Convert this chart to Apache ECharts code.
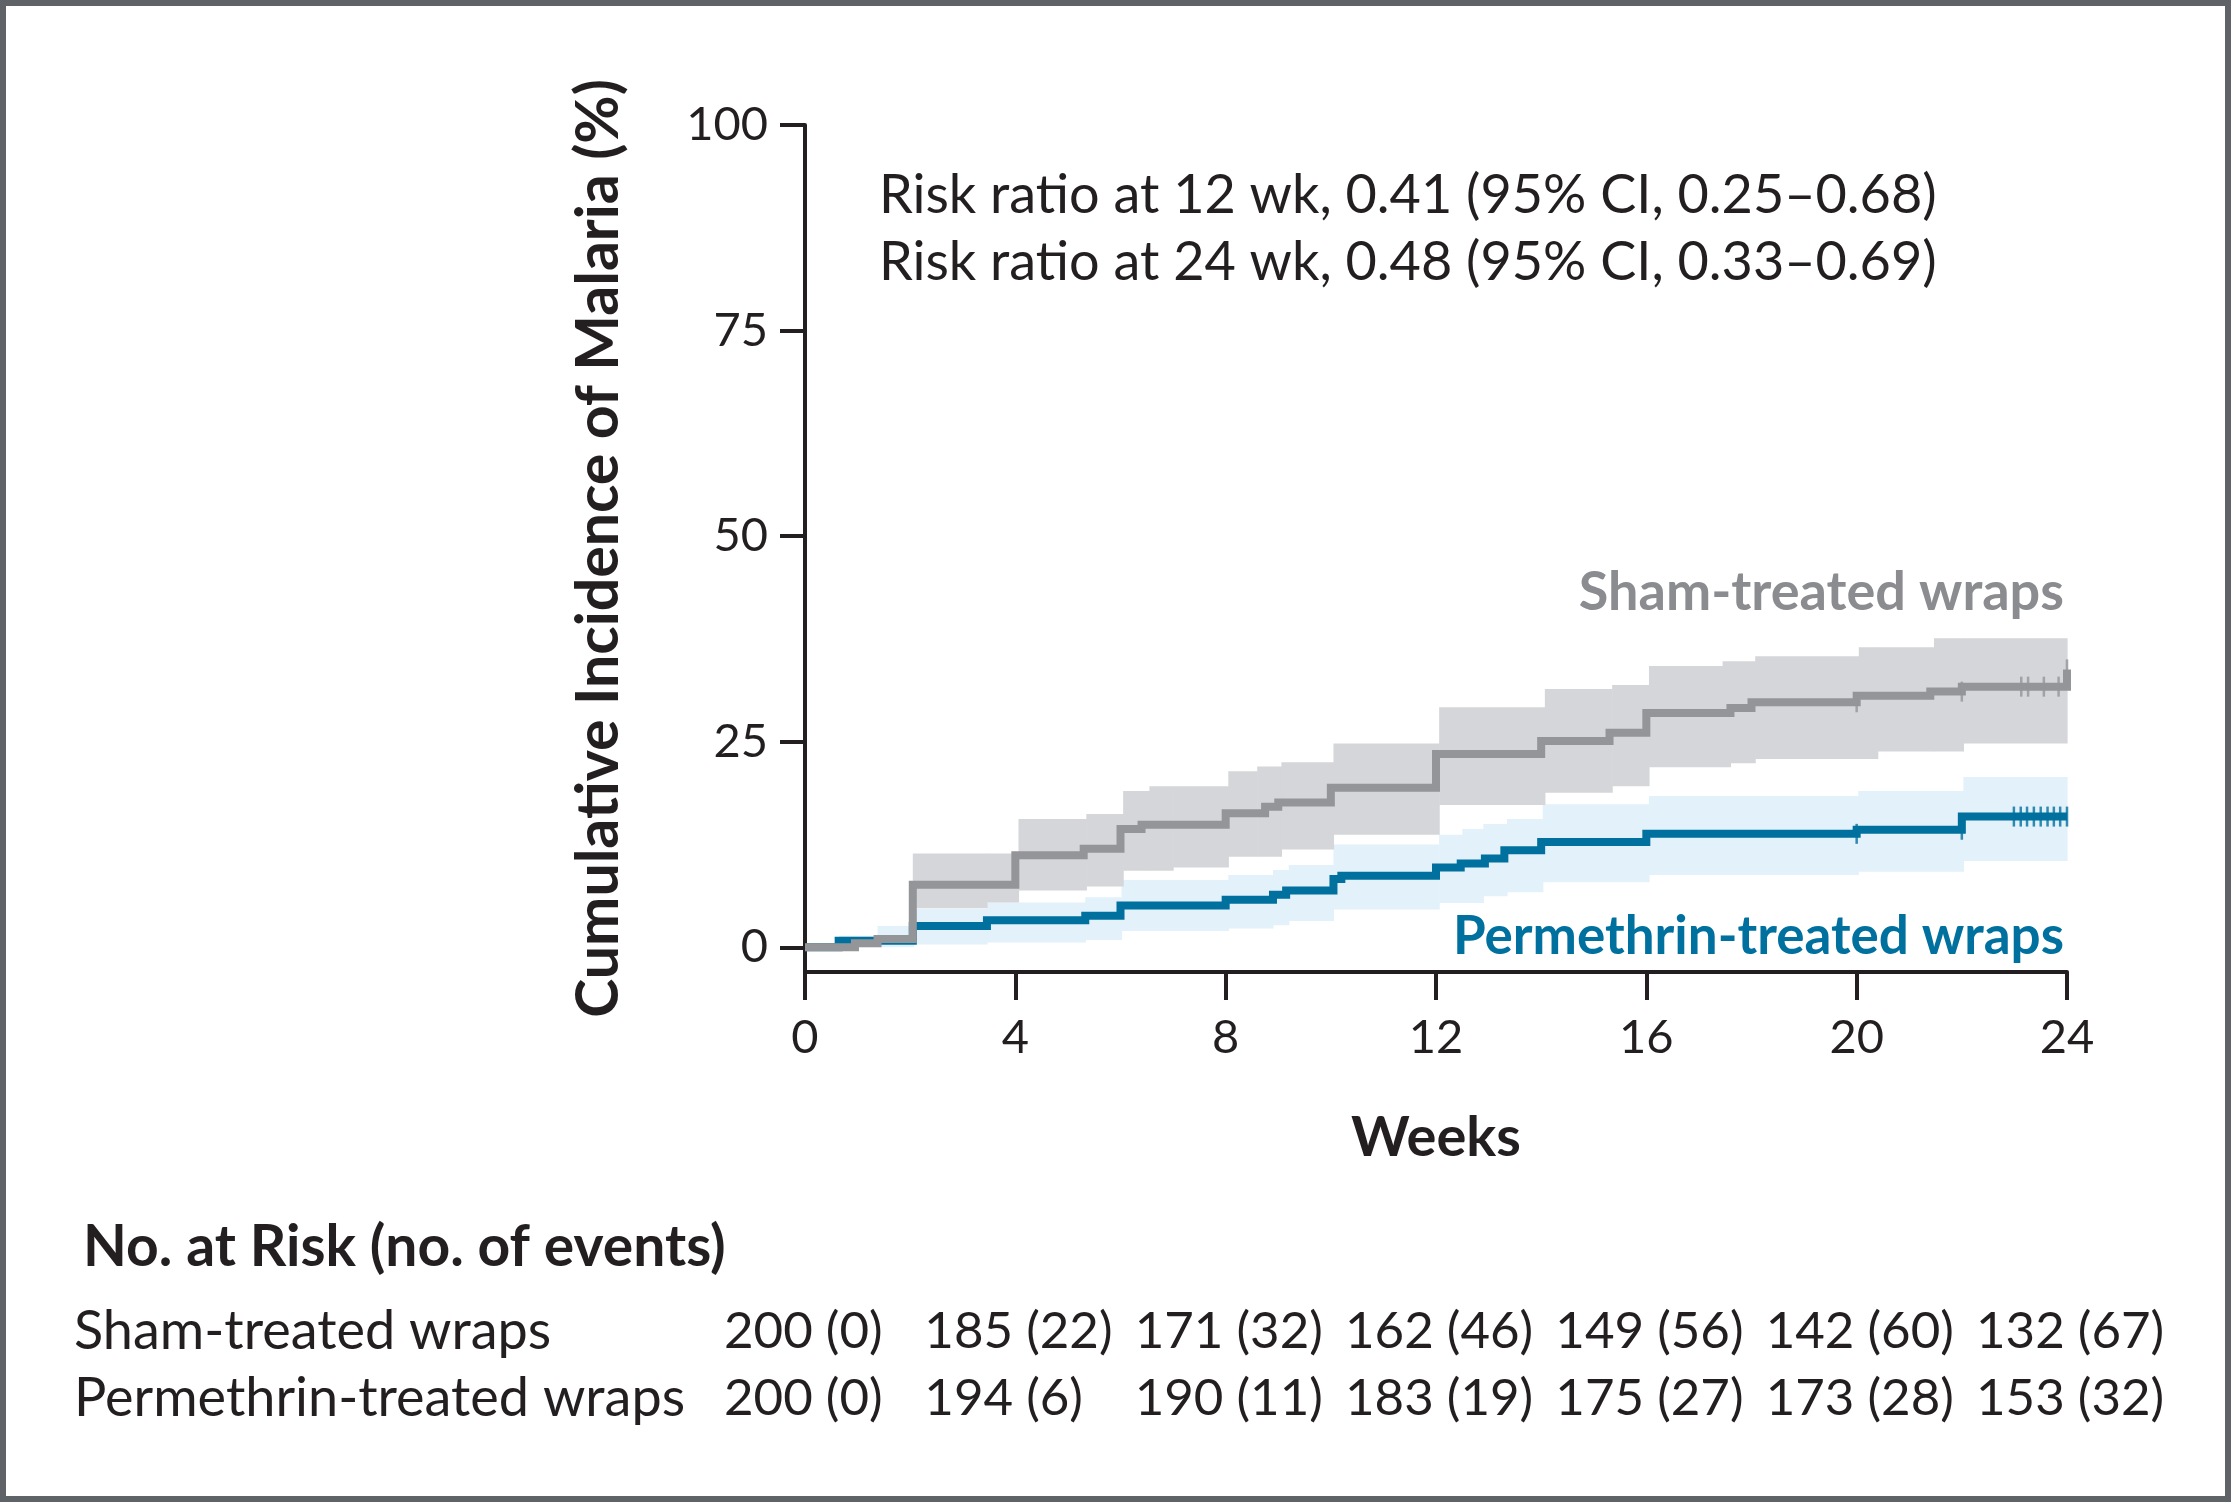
<!DOCTYPE html>
<html>
<head>
<meta charset="utf-8">
<script src="https://cdn.jsdelivr.net/npm/echarts@6/dist/echarts.min.js"></script>
<style>
    html, body {margin: 0; padding: 0; background: #fff;}
    #chart {width: 2231px; height: 1502px;}
</style>
</head>
<body>
<div id="chart"></div>
<script>
// weeks shown on the x axis / at-risk table columns
var weekTicks = [0, 4, 8, 12, 16, 20, 24];

// Kaplan-Meier style steps [week, cumulative incidence %]
var shamSteps = [[0, 0], [0.95, 0.5], [1.38, 1.0], [2.05, 7.6], [4.0, 11.2], [5.3, 12.0], [6.0, 14.4], [6.4, 14.9],
    [8.0, 16.3], [8.75, 17.1], [9.0, 17.6], [10.0, 19.4], [12.0, 23.5], [14.0, 25.1], [15.3, 26.1], [16.0, 28.5],
    [17.6, 29.1], [18.0, 29.8], [20.0, 30.6], [21.4, 31.1], [22.0, 31.7], [24.0, 33.8]];
var permSteps = [[0, 0], [0.64, 0.8], [2.05, 2.6], [3.46, 3.3], [5.33, 3.85], [6.0, 5.1], [8.0, 5.8],
    [8.9, 6.4], [9.15, 6.9], [10.05, 8.3], [10.2, 8.7], [12.0, 9.7], [12.47, 10.2], [12.93, 10.8], [13.3, 11.8],
    [14.0, 12.8], [16.0, 13.8], [20.0, 14.3], [22.0, 15.9], [24.0, 15.9]];

// 95% CI bands: segment start week, lower %, upper %
var shamBandStart = [2.05, 3.46, 4.06, 5.35, 6.05, 6.55, 7.0, 8.05, 8.6, 9.06, 10.05, 12.06, 14.07, 15.35, 16.05, 17.45, 17.6, 18.07, 20.04, 20.4, 21.47, 22.03];
var shamBandLo = [4.75, 5.45, 6.9, 7.4, 9.3, 9.3, 9.7, 11.0, 11.0, 11.9, 13.7, 17.3, 18.8, 19.6, 21.9, 21.9, 22.4, 22.9, 22.9, 23.8, 23.8, 24.8];
var shamBandHi = [11.4, 11.4, 15.6, 16.2, 19.0, 19.6, 19.6, 21.4, 22.0, 22.5, 24.8, 29.2, 31.4, 31.9, 34.2, 34.8, 34.8, 35.4, 36.5, 36.5, 37.6, 37.6];
var permBandStart = [0.65, 1.38, 2.06, 3.46, 5.33, 6.02, 8.05, 8.9, 9.2, 10.05, 12.06, 12.5, 12.9, 13.35, 14.03, 16.05, 20.03, 22.03];
var permBandLo = [0, 0, 0.35, 0.6, 0.9, 2.0, 2.3, 2.7, 3.2, 4.6, 5.4, 5.4, 6.2, 6.7, 7.9, 8.8, 9.2, 10.5];
var permBandHi = [1.4, 2.6, 4.7, 5.45, 6.1, 8.2, 8.8, 9.4, 10.0, 12.5, 13.7, 14.4, 15.0, 15.6, 17.4, 18.4, 19.0, 20.7];

// censored observations
var shamCensor = [[20.0, 29.8], [22.0, 31.1], [23.13, 31.7], [23.26, 31.7], [23.56, 31.7], [23.84, 31.7], [24.0, 33.8]];
var permCensor = [[20.0, 13.8], [22.0, 14.3], [22.99, 15.9], [23.12, 15.9], [23.24, 15.9], [23.37, 15.9], [23.5, 15.9],
    [23.63, 15.9], [23.75, 15.9], [23.87, 15.9], [24.0, 15.9]];

// number at risk (no. of events)
var shamAtRisk = ['200 (0)', '185 (22)', '171 (32)', '162 (46)', '149 (56)', '142 (60)', '132 (67)'];
var permAtRisk = ['200 (0)', '194 (6)', '190 (11)', '183 (19)', '175 (27)', '173 (28)', '153 (32)'];

var FONT = 'Lato';
var INK = '#231f20';
var GRAY = '#939598', GRAY_BAND = '#d5d6d9';
var BLUE = '#00709f', BLUE_BAND = '#e3f1fa';

function bandRows(starts, lo, hi) {
    var rows = [];
    for (var i = 0; i < starts.length; i++) {
        var end = i + 1 < starts.length ? starts[i + 1] : 24;
        rows.push([starts[i], end, lo[i], hi[i]]);
    }
    return rows;
}

function bandItem(color) {
    return function (params, api) {
        var p0 = api.coord([api.value(0), api.value(3)]);
        var p1 = api.coord([api.value(1), api.value(2)]);
        return {
            type: 'rect',
            shape: {x: p0[0], y: p0[1], width: p1[0] - p0[0] + 0.6, height: p1[1] - p0[1]},
            style: {fill: color}
        };
    };
}

var myChart = echarts.init(document.getElementById('chart'), null, {renderer: 'canvas'});

var option = {
    backgroundColor: '#fff',
    animation: false,
    textStyle: {fontFamily: FONT, color: INK},
    grid: {left: 805, right: 164, top: 125, bottom: 530},
    xAxis: {
        type: 'value',
        min: 0, max: 24, interval: 4,
        name: 'Weeks',
        nameLocation: 'middle',
        nameGap: 138,
        nameTextStyle: {fontFamily: FONT, fontWeight: 'bold', fontSize: 56, color: INK},
        axisLine: {onZero: false, lineStyle: {color: INK, width: 4}},
        axisTick: {length: 28, lineStyle: {color: INK, width: 4}},
        axisLabel: {margin: 42, fontSize: 47, color: INK, fontFamily: FONT},
        splitLine: {show: false}
    },
    yAxis: {
        type: 'value',
        min: -3, max: 100,
        name: 'Cumulative Incidence of Malaria (%)',
        nameLocation: 'middle',
        nameGap: 177,
        nameTextStyle: {fontFamily: FONT, fontWeight: 'bold', fontSize: 59, color: INK},
        axisLine: {lineStyle: {color: INK, width: 4}},
        axisTick: {length: 25, lineStyle: {color: INK, width: 4}, customValues: [0, 25, 50, 75, 100]},
        axisLabel: {margin: 37, fontSize: 47, color: INK, fontFamily: FONT, customValues: [0, 25, 50, 75, 100]},
        splitLine: {show: false}
    },
    series: [
        {
            name: 'perm band', type: 'custom', z: 1, silent: true,
            renderItem: bandItem(BLUE_BAND),
            encode: {x: [0, 1], y: [2, 3]},
            data: bandRows(permBandStart, permBandLo, permBandHi)
        },
        {
            name: 'sham band', type: 'custom', z: 1, silent: true,
            renderItem: bandItem(GRAY_BAND),
            encode: {x: [0, 1], y: [2, 3]},
            data: bandRows(shamBandStart, shamBandLo, shamBandHi)
        },
        {
            name: 'Permethrin-treated wraps', type: 'line', step: 'end', z: 3,
            showSymbol: false, silent: true,
            lineStyle: {color: BLUE, width: 8, join: 'miter', cap: 'butt'},
            data: permSteps
        },
        {
            name: 'Sham-treated wraps', type: 'line', step: 'end', z: 4,
            showSymbol: false, silent: true,
            lineStyle: {color: GRAY, width: 8, join: 'miter', cap: 'butt'},
            data: shamSteps
        },
        {
            name: 'perm censor', type: 'scatter', z: 5, silent: true,
            symbol: 'rect', symbolSize: [2.5, 20],
            itemStyle: {color: BLUE},
            data: permCensor
        },
        {
            name: 'sham censor', type: 'scatter', z: 5, silent: true,
            symbol: 'rect', symbolSize: [2.5, 20],
            itemStyle: {color: GRAY},
            data: shamCensor
        }
    ]
};
myChart.setOption(option);

// annotations + at-risk table, columns placed from the x axis scale
var g = [
    {type: 'rect', shape: {x: 0, y: 0, width: 2231, height: 1502}, style: {fill: 'none', stroke: '#5f6368', lineWidth: 12}, z: 100},
    {type: 'text', x: 879, y: 196, style: {text: 'Risk ratio at 12 wk, 0.41 (95% CI, 0.25\u20130.68)', font: '54px ' + FONT, fill: INK, textVerticalAlign: 'middle'}},
    {type: 'text', x: 879, y: 263, style: {text: 'Risk ratio at 24 wk, 0.48 (95% CI, 0.33\u20130.69)', font: '54px ' + FONT, fill: INK, textVerticalAlign: 'middle'}},
    {type: 'text', x: 2064, y: 593, style: {text: 'Sham-treated wraps', font: 'bold 54px ' + FONT, fill: '#8a8c8f', textAlign: 'right', textVerticalAlign: 'middle'}},
    {type: 'text', x: 2064, y: 937, style: {text: 'Permethrin-treated wraps', font: 'bold 53px ' + FONT, fill: BLUE, textAlign: 'right', textVerticalAlign: 'middle'}},
    {type: 'text', x: 83, y: 1248, style: {text: 'No. at Risk (no. of events)', font: 'bold 57px ' + FONT, fill: INK, textVerticalAlign: 'middle'}},
    {type: 'text', x: 74, y: 1332, style: {text: 'Sham-treated wraps', font: '54px ' + FONT, fill: INK, textVerticalAlign: 'middle'}},
    {type: 'text', x: 74, y: 1399, style: {text: 'Permethrin-treated wraps', font: '54px ' + FONT, fill: INK, textVerticalAlign: 'middle'}}
];
for (var i = 0; i < weekTicks.length; i++) {
    var px = myChart.convertToPixel({xAxisIndex: 0}, weekTicks[i]) - (i === 0 ? 81 : 91);
    g.push({type: 'text', x: px, y: 1332, style: {text: shamAtRisk[i], font: '51px ' + FONT, fill: INK, textVerticalAlign: 'middle'}});
    g.push({type: 'text', x: px, y: 1399, style: {text: permAtRisk[i], font: '51px ' + FONT, fill: INK, textVerticalAlign: 'middle'}});
}
myChart.setOption({graphic: g});
</script>
</body>
</html>
